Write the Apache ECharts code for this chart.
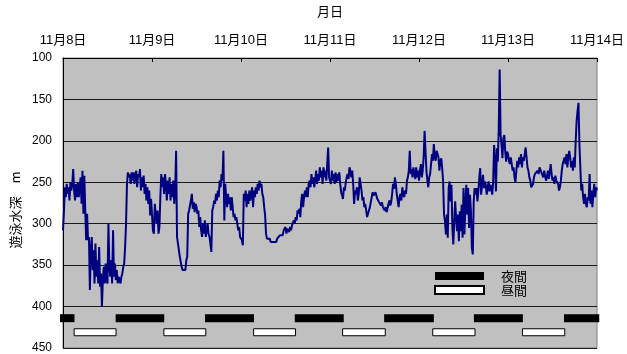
<!DOCTYPE html>
<html>
<head>
<meta charset="utf-8">
<script src="https://cdn.jsdelivr.net/npm/echarts@6/dist/echarts.min.js"></script>
<style>
  html, body { margin: 0; padding: 0; background: #fff; }
  #chart { width: 627px; height: 354px; }
</style>
</head>
<body>
<div id="chart"></div>
<script>
// x axis: hours since 11/8 0:00, one label per day
const dayLabels = ['11月8日', '11月9日', '11月10日', '11月11日', '11月12日', '11月13日', '11月14日'];
const depthTicks = [100, 150, 200, 250, 300, 350, 400, 450];

// swimming depth (m), one reading every 15 minutes (one row = 6 hours)
const sampleHours = 0.25;
const depth = [
  308, 286, 256, 268, 252, 264, 256, 272, 250, 260, 252, 234, 260, 272, 252, 268, 250, 268, 256, 244, 276, 236, 288, 242,
  284, 320, 288, 320, 316, 380, 332, 316, 356, 332, 372, 324, 364, 344, 372, 328, 376, 360, 400, 368, 352, 372, 348, 368,
  372, 300, 352, 364, 344, 372, 308, 364, 348, 368, 356, 372, 364, 368, 372, 364, 360, 352, 348, 328, 300, 252, 238, 244,
  240, 252, 238, 248, 238, 252, 242, 236, 256, 240, 244, 234, 260, 244, 256, 242, 264, 252, 272, 256, 276, 260, 290, 270,
  272, 308, 312, 276, 288, 300, 284, 312, 304, 268, 240, 256, 244, 264, 240, 252, 272, 248, 264, 244, 272, 252, 268, 248,
  276, 260, 212, 316, 324, 332, 340, 346, 352, 356, 358, 354, 356, 344, 340, 288, 284, 278, 272, 264, 282, 274, 286, 276,
  280, 288, 284, 304, 292, 308, 316, 300, 312, 296, 316, 308, 300, 312, 316, 324, 334, 284, 280, 272, 276, 264, 272, 260,
  268, 248, 256, 240, 248, 212, 296, 252, 268, 280, 264, 276, 268, 284, 268, 280, 292, 288, 296, 292, 300, 308, 304, 316,
  316, 320, 326, 264, 272, 260, 280, 264, 276, 260, 272, 264, 256, 280, 260, 268, 256, 264, 252, 260, 248, 256, 252, 264,
  268, 280, 290, 312, 318, 316, 320, 318, 322, 320, 324, 322, 324, 320, 322, 318, 316, 318, 314, 316, 312, 314, 308, 310,
  304, 312, 306, 308, 310, 304, 308, 302, 304, 296, 300, 292, 296, 284, 288, 282, 292, 272, 264, 280, 268, 260, 268, 256,
  268, 252, 248, 256, 240, 252, 244, 256, 248, 236, 252, 240, 248, 232, 244, 236, 252, 232, 244, 236, 248, 228, 208, 244,
  244, 252, 236, 248, 240, 252, 238, 250, 240, 248, 238, 252, 262, 266, 270, 256, 260, 250, 244, 240, 246, 232, 236, 244,
  236, 252, 276, 260, 264, 256, 272, 264, 244, 252, 260, 272, 268, 280, 276, 284, 292, 288, 284, 280, 274, 268, 262, 266,
  268, 262, 264, 270, 268, 274, 272, 278, 274, 280, 278, 284, 280, 286, 282, 276, 272, 278, 274, 264, 252, 258, 244, 252,
  264, 272, 280, 268, 264, 272, 256, 264, 268, 260, 264, 248, 244, 236, 212, 240, 234, 244, 232, 240, 246, 232, 244, 236,
  248, 236, 228, 244, 236, 220, 188, 212, 236, 248, 256, 244, 240, 228, 216, 224, 204, 220, 224, 212, 216, 220, 236, 224,
  221, 233, 249, 289, 297, 313, 289, 317, 257, 249, 273, 253, 305, 325, 297, 273, 293, 309, 289, 321, 285, 309, 277, 317,
  257, 313, 277, 253, 289, 257, 305, 265, 285, 329, 337, 273, 257, 265, 257, 273, 261, 245, 233, 265, 253, 241, 257, 249,
  253, 265, 257, 249, 261, 253, 257, 265, 249, 205, 225, 261, 209, 225, 185, 114, 193, 205, 221, 197, 193, 213, 225, 213,
  216, 224, 228, 220, 228, 236, 232, 244, 250, 236, 224, 232, 220, 228, 216, 232, 220, 224, 216, 208, 220, 232, 236, 244,
  248, 256, 258, 252, 244, 240, 242, 238, 236, 240, 232, 230, 238, 240, 244, 236, 242, 248, 244, 236, 246, 238, 228, 240,
  248, 244, 252, 242, 248, 246, 252, 260, 256, 248, 236, 228, 224, 220, 228, 216, 232, 220, 212, 220, 232, 224, 236, 220,
  232, 200, 176, 164, 154, 204, 232, 260, 252, 268, 276, 264, 276, 280, 268, 272, 240, 276, 260, 280, 264, 252, 268, 256,
  260
];

// night / daytime periods (hours since 11/8 0:00)
const nightStart = [-0.8, 14.2, 38.3, 62.5, 86.6, 110.8, 135.1];
const nightEnd   = [3.1, 27.3, 51.5, 75.7, 100.0, 124.0, 144.6];
const dayStart   = [3.0, 27.2, 51.4, 75.4, 99.7, 123.9];
const dayEnd     = [14.3, 38.5, 62.7, 86.9, 111.1, 135.3];

const NIGHT_LEVEL = 414;
const DAY_LEVEL = 431;

const lineData = depth.map((d, i) => [i * sampleHours, d]);
const nightData = nightStart.map((s, i) => [s, nightEnd[i], NIGHT_LEVEL]);
const dayData = dayStart.map((s, i) => [s, dayEnd[i], DAY_LEVEL]);

function barRenderer(h, fill, stroke) {
    return function (params, api) {
        const a = api.coord([api.value(0), api.value(2)]);
        const b = api.coord([api.value(1), api.value(2)]);
        return {
            type: 'rect',
            shape: { x: a[0], y: a[1] - h / 2, width: b[0] - a[0], height: h },
            style: { fill: fill, stroke: stroke, lineWidth: stroke ? 1 : 0 }
        };
    };
}

const fontLatin = '"Liberation Sans", Arial, "Noto Sans CJK JP", sans-serif';
const fontCJK = '"Noto Sans CJK JP", sans-serif';

const chart = echarts.init(document.getElementById('chart'));
chart.setOption({
    animation: false,
    backgroundColor: '#fff',
    grid: {
        left: 63, top: 56, width: 536, height: 292,
        show: true,
        backgroundColor: '#c0c0c0',
        borderColor: '#808080',
        borderWidth: 1
    },
    legend: {
        left: 434, top: 269,
        padding: 0,
        orient: 'vertical',
        itemWidth: 49, itemHeight: 8, itemGap: 0,
        icon: 'rect',
        selectedMode: false,
        data: ['夜間', '昼間'],
        textStyle: { fontFamily: fontCJK, fontSize: 13, lineHeight: 14, color: '#000', padding: [0, 0, 0, 12] }
    },
    graphic: [{
        type: 'text',
        x: 15, y: 210,
        rotation: Math.PI / 2,
        style: {
            text: '遊泳水深　m',
            fontFamily: fontCJK,
            fontSize: 13,
            fill: '#000',
            align: 'center',
            verticalAlign: 'middle'
        }
    }],
    xAxis: {
        type: 'value',
        position: 'top',
        min: 0, max: 144, interval: 24,
        name: '月日',
        nameLocation: 'middle',
        nameGap: 40,
        nameTextStyle: { fontFamily: fontCJK, fontSize: 13, color: '#000' },
        axisLine: { show: true, lineStyle: { color: '#000', width: 1 } },
        axisTick: { show: true, inside: true, length: 4, lineStyle: { color: '#000' } },
        axisLabel: {
            margin: 11,
            fontFamily: fontLatin, fontSize: 13, color: '#000',
            formatter: v => dayLabels[Math.round(v / 24)]
        },
        splitLine: { show: false }
    },
    yAxis: {
        type: 'value',
        inverse: true,
        min: depthTicks[0], max: depthTicks[depthTicks.length - 1], interval: 50,
        axisLine: { show: true, lineStyle: { color: '#000', width: 1 } },
        axisTick: { show: false },
        axisLabel: { margin: 11, fontFamily: fontLatin, fontSize: 12, color: '#000' },
        splitLine: { show: true, lineStyle: { color: '#1a1a1a', width: 1 } }
    },
    series: [
        {
            type: 'line',
            data: lineData,
            showSymbol: false,
            lineStyle: { color: '#000080', width: 2 },
            z: 3
        },
        {
            name: '夜間',
            type: 'custom',
            data: nightData,
            clip: false,
            itemStyle: { color: '#000' },
            renderItem: barRenderer(8, '#000', null),
            z: 4
        },
        {
            name: '昼間',
            type: 'custom',
            data: dayData,
            clip: false,
            itemStyle: { color: '#fff', borderColor: '#000', borderWidth: 1 },
            renderItem: barRenderer(7, '#fff', '#000'),
            z: 4
        }
    ]
});
</script>
</body>
</html>
